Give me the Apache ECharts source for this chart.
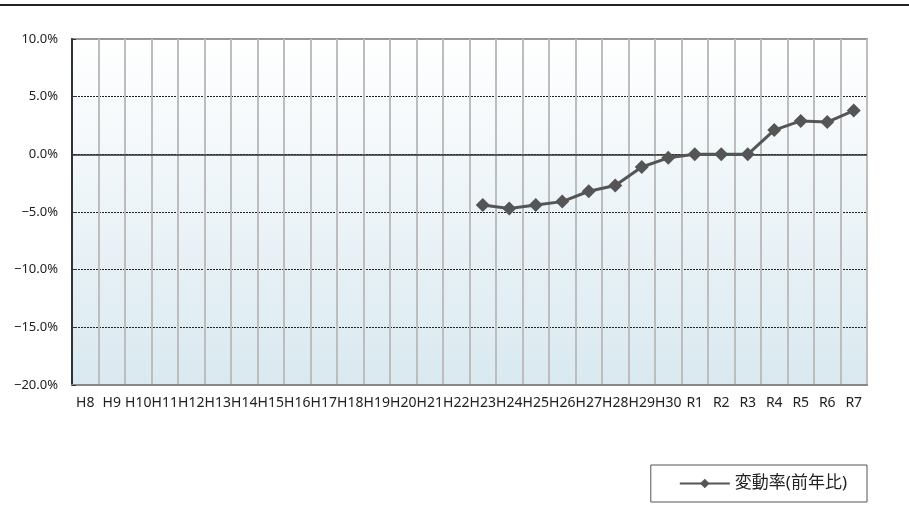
<!DOCTYPE html>
<html>
<head>
<meta charset="utf-8">
<script src="https://cdn.jsdelivr.net/npm/echarts@6/dist/echarts.min.js"></script>
<style>
  html, body { margin: 0; padding: 0; background: #fff; }
  #main { width: 909px; height: 513px; }
</style>
</head>
<body>
<div id="main"></div>
<script>
// 年度（H8〜R7）
var years = ['H8', 'H9', 'H10', 'H11', 'H12', 'H13', 'H14', 'H15', 'H16', 'H17',
  'H18', 'H19', 'H20', 'H21', 'H22', 'H23', 'H24', 'H25', 'H26', 'H27',
  'H28', 'H29', 'H30', 'R1', 'R2', 'R3', 'R4', 'R5', 'R6', 'R7'];
// 変動率(前年比) %  H22まではデータなし
var rates = [null, null, null, null, null, null, null, null, null, null,
  null, null, null, null, null, -4.4, -4.7, -4.4, -4.1, -3.2,
  -2.7, -1.1, -0.3, 0.0, 0.0, 0.0, 2.1, 2.9, 2.8, 3.8];
var seriesName = '変動率(前年比)';

var font = '"Noto Sans", "Noto Sans CJK JP", sans-serif';
var chart = echarts.init(document.getElementById('main'));

chart.setOption({
  animation: false,
  textStyle: { fontFamily: font },
  graphic: [{
    // 上部の区切り線
    type: 'line',
    shape: { x1: 0, y1: 5, x2: 909, y2: 5 },
    style: { stroke: '#222', lineWidth: 2 }
  }],
  grid: {
    left: 72, right: 42, top: 39, bottom: 128,
    show: true,
    borderColor: '#999',
    borderWidth: 2,
    backgroundColor: {
      type: 'linear', x: 0, y: 0, x2: 0, y2: 1,
      colorStops: [{ offset: 0, color: '#ffffff' }, { offset: 1, color: '#d9e9f0' }]
    }
  },
  legend: {
    data: [seriesName],
    right: 42, bottom: 11,
    padding: [10, 20, 10, 28],
    borderColor: '#555',
    borderWidth: 1,
    itemWidth: 50,
    itemHeight: 12,
    itemGap: 6,
    textStyle: { fontSize: 17, color: '#222', fontFamily: font }
  },
  xAxis: {
    type: 'category',
    data: years,
    boundaryGap: true,
    axisLine: { onZero: false, lineStyle: { color: '#888', width: 2 } },
    axisTick: { show: false },
    axisLabel: { interval: 0, color: '#222', fontSize: 14, margin: 11, fontFamily: font },
    splitLine: { show: true, interval: 0, lineStyle: { color: '#bdbdbd', width: 2 } }
  },
  yAxis: {
    type: 'value',
    min: -20, max: 10, interval: 5,
    axisLine: { show: true, lineStyle: { color: '#333', width: 2 } },
    axisTick: { show: true, inside: true, length: 4, lineStyle: { color: '#333' } },
    axisLabel: {
      color: '#222', fontSize: 13, margin: 14, fontFamily: font,
      formatter: function (v) { return v.toFixed(1).replace('-', '−') + '%'; }
    },
    splitLine: {
      show: true, showMinLine: false, showMaxLine: false,
      lineStyle: { color: '#222', width: 1, type: [2, 1] }
    }
  },
  series: [{
    name: seriesName,
    type: 'line',
    data: rates,
    symbol: 'diamond',
    symbolSize: 14,
    showAllSymbol: true,
    connectNulls: false,
    itemStyle: { color: '#555' },
    lineStyle: { color: '#555', width: 3 },
    markLine: {
      silent: true,
      symbol: 'none',
      label: { show: false },
      lineStyle: { color: '#333', width: 1.5, type: 'solid' },
      data: [{ yAxis: 0 }],
      z: 1
    },
    z: 3
  }]
});
</script>
</body>
</html>
